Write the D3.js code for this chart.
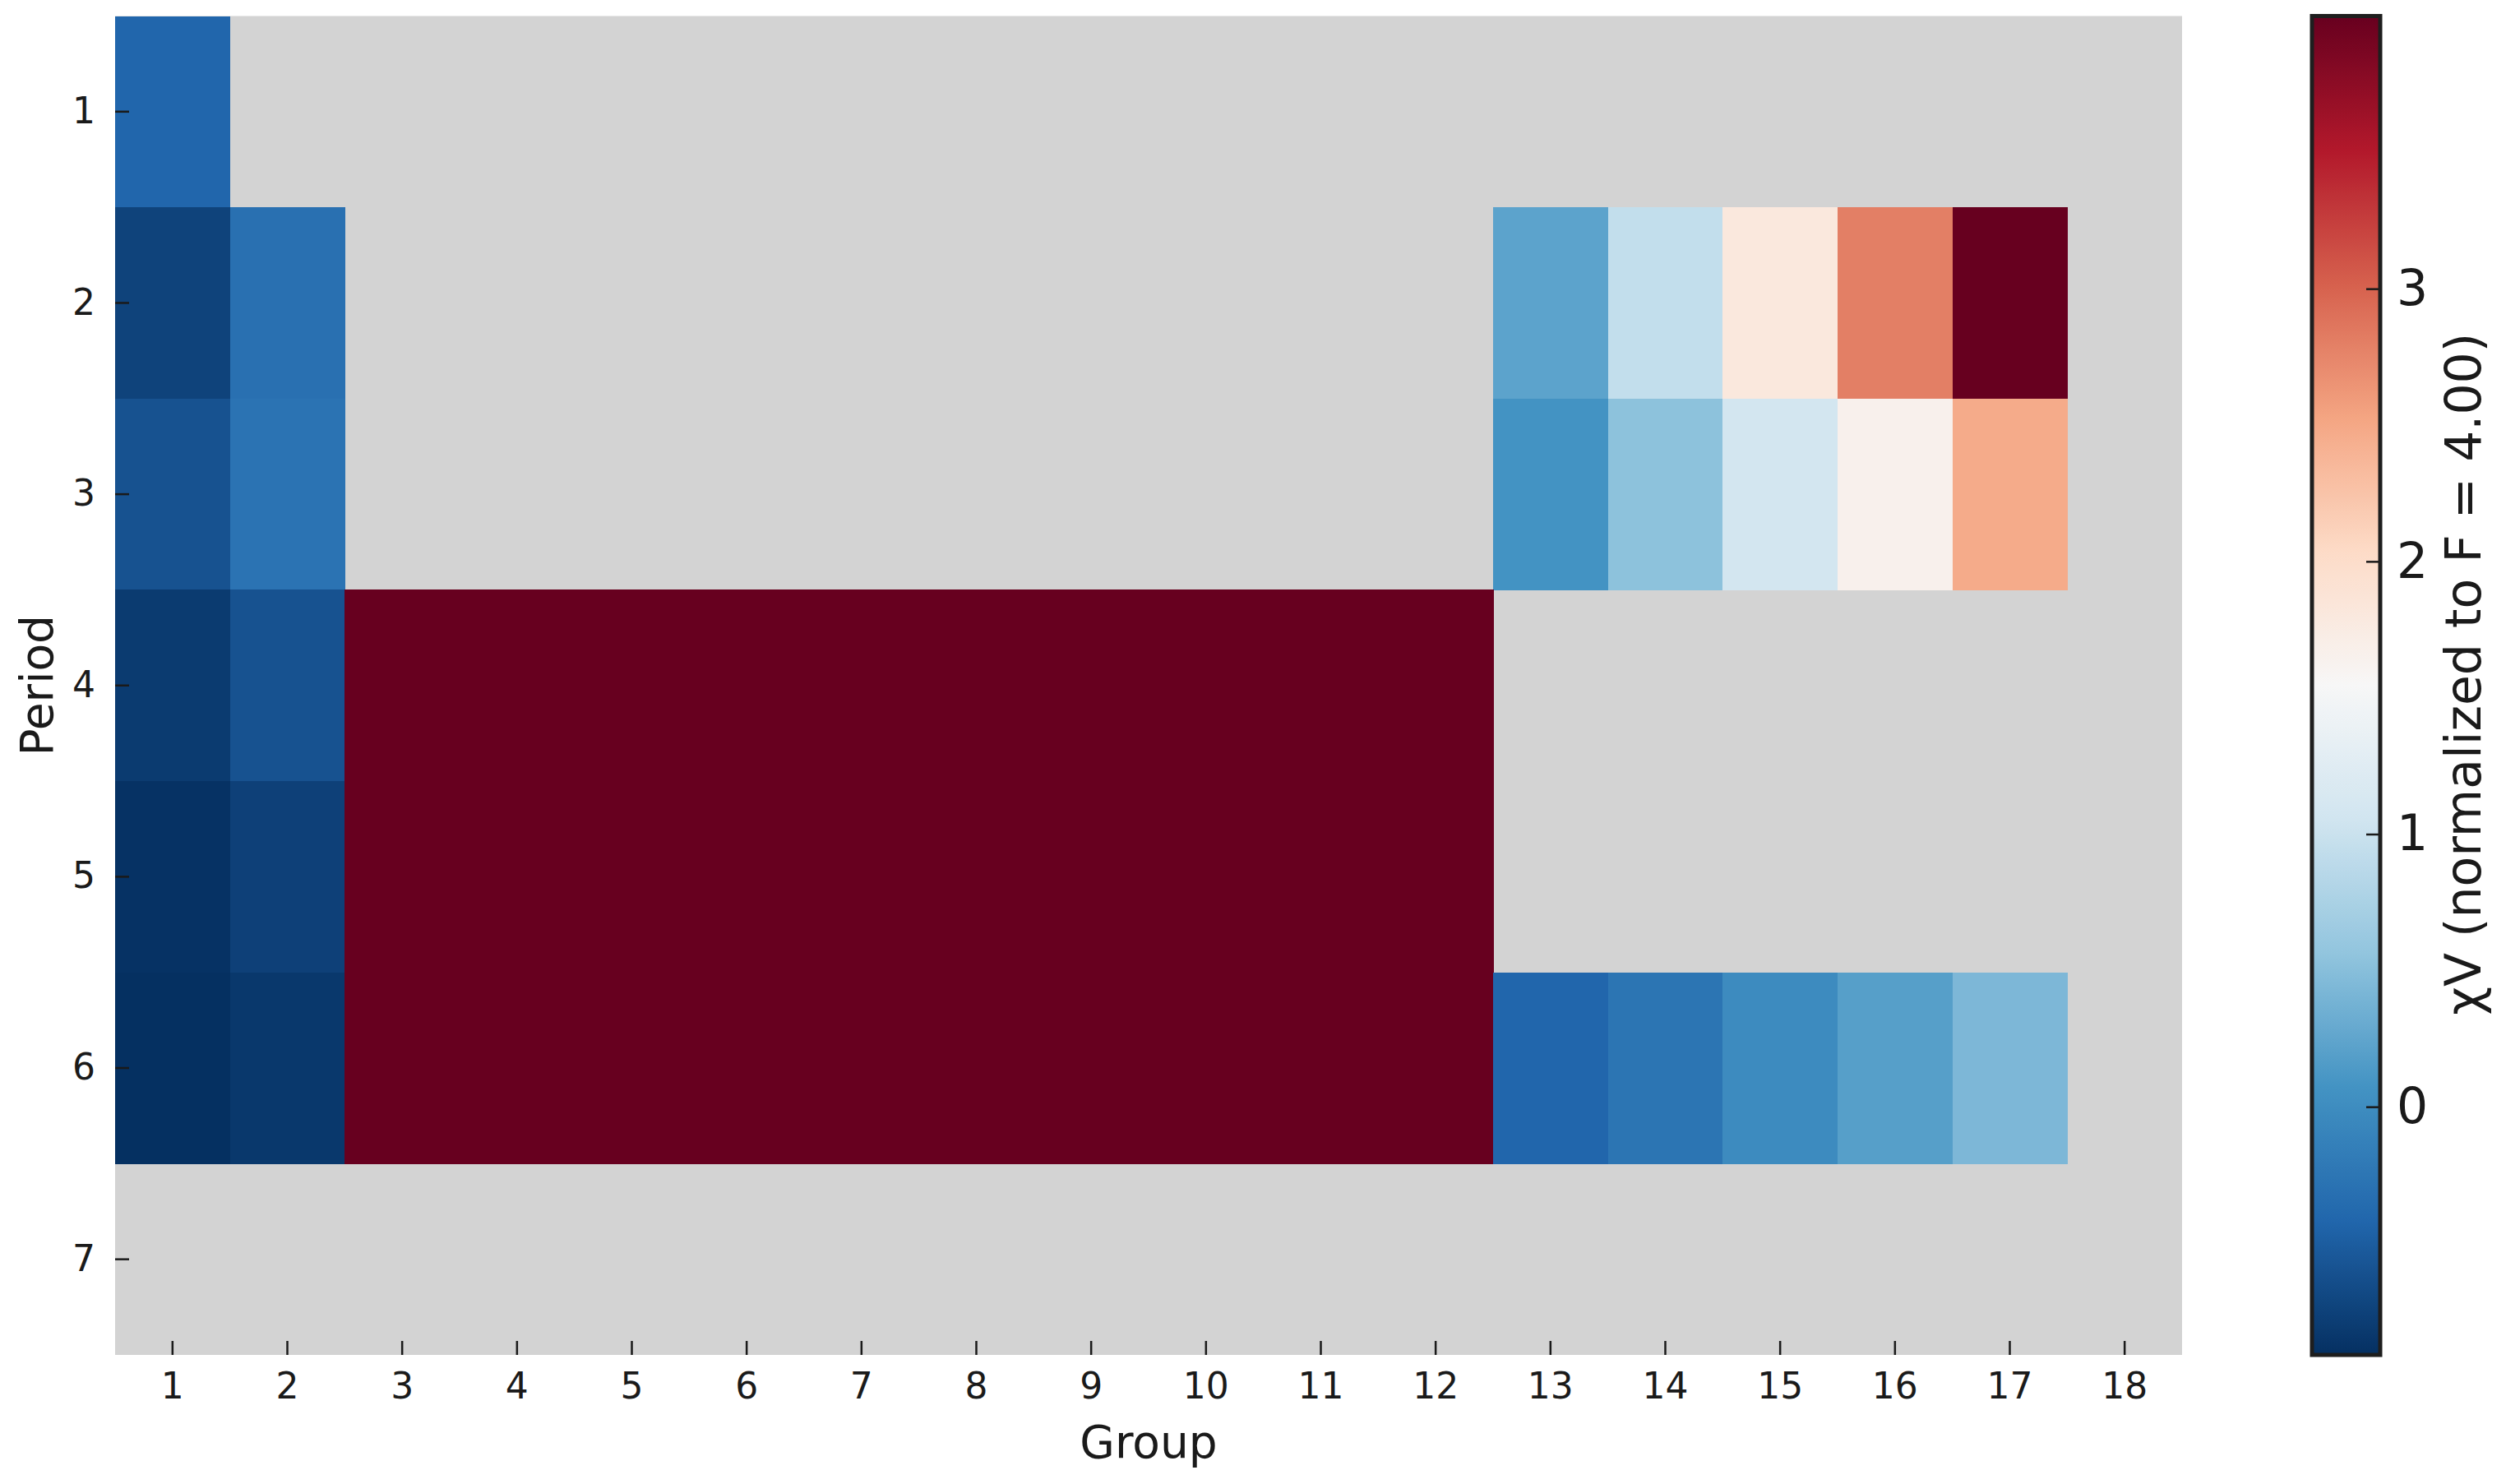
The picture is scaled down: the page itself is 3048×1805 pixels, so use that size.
<!DOCTYPE html>
<html>
<head>
<meta charset="utf-8">
<script src="https://cdn.jsdelivr.net/npm/d3@7"></script>
<style>
  html, body { margin: 0; padding: 0; background: #ffffff; }
  svg text { font-family: "DejaVu Sans", sans-serif; fill: #1a1a1a; }
</style>
</head>
<body>
<svg id="chart" width="3048" height="1805"></svg>
<script>
// ---------------- data ----------------
const groups = [1,2,3,4,5,6,7,8,9,10,11,12,13,14,15,16,17,18];
const periods = [1,2,3,4,5,6,7];
// χV normalized to F = 4.00 ; null = no data (grey)
const period1 = [-0.42, null,null,null,null,null,null,null,null,null,null,null, null,null,null,null,null, null];
const period2 = [-0.74, -0.31, null,null,null,null,null,null,null,null,null,null, 0.23, 0.94, 1.81, 2.80, 4.00, null];
const period3 = [-0.60, -0.28, null,null,null,null,null,null,null,null,null,null, 0.07, 0.53, 1.08, 1.66, 2.47, null];
const period4 = [-0.81, -0.60, 4.00,4.00,4.00,4.00,4.00,4.00,4.00,4.00,4.00,4.00, null,null,null,null,null, null];
const period5 = [-0.89, -0.76, 4.00,4.00,4.00,4.00,4.00,4.00,4.00,4.00,4.00,4.00, null,null,null,null,null, null];
const period6 = [-0.91, -0.84, 4.00,4.00,4.00,4.00,4.00,4.00,4.00,4.00,4.00,4.00, -0.42, -0.26, -0.02, 0.19, 0.43, null];
const period7 = [null,null,null,null,null,null,null,null,null,null,null,null,null,null,null,null,null,null];
const rows = [period1, period2, period3, period4, period5, period6, period7];
const colorbarTicks = [0, 1, 2, 3];
const vmin = -0.91, vmax = 4.00;
const xLabel = "Group", yLabel = "Period", cbarLabel = "χV (normalized to F = 4.00)";
// RdBu_r (ColorBrewer 11, low -> high)
const rdbuR = ["#053061","#2166ac","#4393c3","#92c5de","#d1e5f0","#f7f7f7","#fddbc7","#f4a582","#d6604d","#b2182b","#67001f"];

// ---------------- layout ----------------
const L = 140, R = 2654, T = 19.5, B = 1648;
const svg = d3.select("#chart");

const x = d3.scaleBand().domain(groups).range([L, R]).padding(0);
const y = d3.scaleBand().domain(periods).range([T, B]).padding(0);
const stops = d3.range(rdbuR.length).map(i => vmin + (vmax - vmin) * i / (rdbuR.length - 1));
const color = d3.scaleLinear().domain(stops).range(rdbuR).interpolate(d3.interpolateRgb).clamp(true);

// background (NaN)
svg.append("rect").attr("x", L).attr("y", T).attr("width", R - L).attr("height", B - T).attr("fill", "#d3d3d3");

const cells = [];
rows.forEach((row, pi) => row.forEach((v, gi) => {
  if (v !== null) cells.push({ p: periods[pi], g: groups[gi], v });
}));

svg.append("g").attr("shape-rendering", "crispEdges").selectAll("rect").data(cells).join("rect")
  .attr("x", d => x(d.g)).attr("y", d => y(d.p))
  .attr("width", x.bandwidth() + 0.5).attr("height", y.bandwidth() + 0.5)
  .attr("fill", d => color(d.v));

// axes with inward ticks
const xAxis = d3.axisBottom(x).tickSize(-17).tickPadding(22);
const gx = svg.append("g").attr("transform", `translate(0,${B})`).call(xAxis);
const yAxis = d3.axisLeft(y).tickSize(-17).tickPadding(24);
const gy = svg.append("g").attr("transform", `translate(${L},0)`).call(yAxis);
[gx, gy].forEach(g => {
  g.select(".domain").remove();
  g.selectAll(".tick line").attr("stroke", "#1a1a1a").attr("stroke-width", 2.5);
  g.selectAll(".tick text").attr("font-size", 44).style("font-family", "DejaVu Sans").attr("fill", "#1a1a1a");
});

// axis labels
svg.append("text").attr("x", (L + R) / 2).attr("y", 1773).attr("text-anchor", "middle")
  .attr("font-size", 55).text(xLabel);
svg.append("text").attr("transform", `translate(45,${(T + B) / 2}) rotate(-90)`)
  .attr("text-anchor", "middle").attr("dominant-baseline", "central")
  .attr("font-size", 55).text(yLabel);

// ---------------- colorbar ----------------
const cbL = 2812, cbR = 2895;
const cy = d3.scaleLinear().domain([vmin, vmax]).range([B, T]);
const defs = svg.append("defs");
const grad = defs.append("linearGradient").attr("id", "cbgrad")
  .attr("x1", 0).attr("y1", 1).attr("x2", 0).attr("y2", 0);
d3.range(0, 101).forEach(i => {
  const v = vmin + (vmax - vmin) * i / 100;
  grad.append("stop").attr("offset", `${i}%`).attr("stop-color", color(v));
});
svg.append("rect").attr("x", cbL).attr("y", T).attr("width", cbR - cbL).attr("height", B - T)
  .attr("fill", "url(#cbgrad)");
const cAxis = d3.axisRight(cy).tickValues(colorbarTicks).tickFormat(d3.format("d")).tickSize(-17).tickPadding(20);
const gc = svg.append("g").attr("transform", `translate(${cbR},0)`).call(cAxis);
gc.select(".domain").remove();
gc.selectAll(".tick line").attr("stroke", "#1a1a1a").attr("stroke-width", 2.5);
gc.selectAll(".tick text").attr("font-size", 60).style("font-family", "DejaVu Sans").attr("fill", "#1a1a1a");
svg.append("rect").attr("x", cbL).attr("y", T).attr("width", cbR - cbL).attr("height", B - T)
  .attr("fill", "none").attr("stroke", "#1e1e1e").attr("stroke-width", 5);

svg.append("text").attr("transform", `translate(2996,${(T + B) / 2 - 14}) rotate(-90)`)
  .attr("text-anchor", "middle").attr("dominant-baseline", "central")
  .attr("font-size", 60).text(cbarLabel);
</script>
</body>
</html>
